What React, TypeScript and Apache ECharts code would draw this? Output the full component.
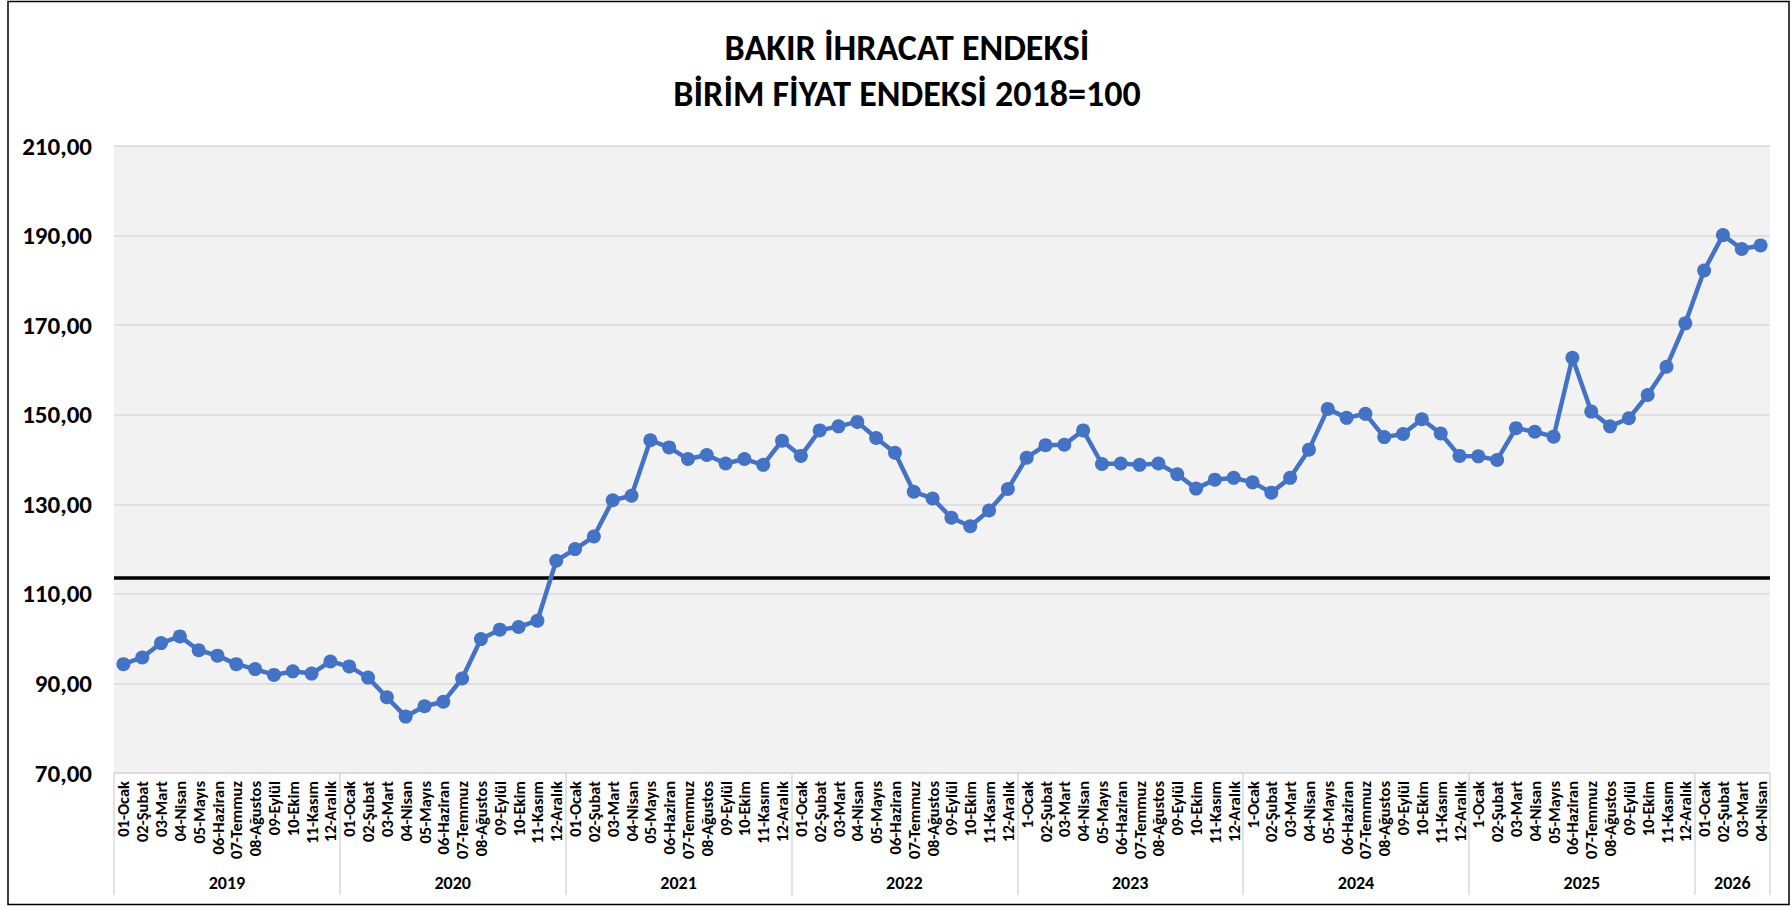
import React, { useEffect, useRef } from "react";
import * as echarts from "echarts";

const years = ["2019", "2020", "2021", "2022", "2023", "2024", "2025", "2026"];
const monthsStd = ["01-Ocak", "02-Şubat", "03-Mart", "04-Nisan", "05-Mayıs", "06-Haziran", "07-Temmuz", "08-Ağustos", "09-Eylül", "10-Ekim", "11-Kasım", "12-Aralık"];
const monthsAlt = ["1-Ocak", "02-Şubat", "03-Mart", "04-Nisan", "05-Mayıs", "06-Haziran", "07-Temmuz", "08-Ağustos", "09-Eylül", "10-Ekim", "11-Kasım", "12-Aralık"];
const months2026 = ["01-Ocak", "02-Şubat", "03-Mart", "04-Nisan"];
const yearMonths = [monthsStd, monthsStd, monthsStd, monthsStd, monthsAlt, monthsAlt, monthsAlt, months2026];

const v2019 = [94.3, 95.8, 99.0, 100.5, 97.4, 96.2, 94.3, 93.2, 91.9, 92.7, 92.2, 94.9];
const v2020 = [93.8, 91.3, 86.9, 82.6, 84.9, 85.9, 91.1, 99.9, 102.0, 102.6, 104.0, 117.4];
const v2021 = [120.0, 122.8, 130.9, 131.9, 144.3, 142.7, 140.1, 141.0, 139.1, 140.1, 138.8, 144.2];
const v2022 = [140.8, 146.5, 147.4, 148.4, 144.8, 141.5, 132.8, 131.3, 127.0, 125.1, 128.6, 133.4];
const v2023 = [140.4, 143.2, 143.3, 146.5, 139.0, 139.1, 138.8, 139.1, 136.7, 133.5, 135.5, 135.9];
const v2024 = [134.9, 132.6, 135.9, 142.2, 151.3, 149.3, 150.2, 145.0, 145.7, 149.0, 145.8, 140.8];
const v2025 = [140.7, 139.9, 147.0, 146.2, 145.1, 162.7, 150.7, 147.4, 149.2, 154.4, 160.7, 170.4];
const v2026 = [182.2, 190.1, 187.0, 187.8];
const yearValues = [v2019, v2020, v2021, v2022, v2023, v2024, v2025, v2026];

const referenceLevel = 113.6;
const yTicks = { min: 70, max: 210, interval: 20 };

const FONT = "Carlito, Lato, 'Open Sans', sans-serif";

export default function App() {
  const ref = useRef<HTMLDivElement>(null);

  useEffect(() => {
    document.body.style.margin = "0";
    if (!ref.current) return;
    const chart = echarts.init(ref.current, undefined, { renderer: "svg" });

    const categories: string[] = [];
    const yearOfCat: string[] = [];
    const values: number[] = [];
    const yearStarts = new Set<number>();
    const yearMids = new Set<number>();
    let idx = 0;
    yearMonths.forEach((ms, yi) => {
      yearStarts.add(idx);
      yearMids.add(idx + ms.length / 2);
      ms.forEach((m, mi) => {
        categories.push(m);
        yearOfCat.push(years[yi]);
        values.push(yearValues[yi][mi]);
      });
      idx += ms.length;
    });

    const gridLeft = 114;
    const gridRight = 21;
    const plotWidth = 1791 - gridLeft - gridRight;
    const band = plotWidth / categories.length;

    chart.setOption({
      animation: false,
      backgroundColor: "#ffffff",
      textStyle: { fontFamily: FONT },
      title: {
        text: "BAKIR İHRACAT ENDEKSİ\nBİRİM FİYAT ENDEKSİ 2018=100",
        left: 902,
        textAlign: "center",
        top: 20,
        textStyle: {
          fontFamily: FONT,
          fontSize: 36,
          fontWeight: "bold",
          color: "#000000",
          lineHeight: 46,
        },
      },
      graphic: [
        {
          type: "rect",
          shape: { x: 8, y: 1.5, width: 1781, height: 903 },
          style: { fill: "none", stroke: "#000000", lineWidth: 1.5 },
          silent: true,
        },
      ],
      grid: {
        left: gridLeft,
        right: gridRight,
        top: 146,
        bottom: 133,
        show: true,
        backgroundColor: "#f2f2f2",
        borderWidth: 0,
      },
      xAxis: [
        {
          type: "category",
          data: categories,
          boundaryGap: true,
          position: "bottom",
          axisLine: { show: true, lineStyle: { color: "#d9d9d9", width: 1.5 } },
          axisTick: { show: false },
          axisLabel: {
            interval: 0,
            rotate: 90,
            margin: 8,
            fontSize: 16.5,
            fontWeight: "bold",
            color: "#000000",
            fontFamily: FONT,
          },
          splitLine: { show: false },
        },
        {
          type: "category",
          data: yearOfCat,
          boundaryGap: true,
          position: "bottom",
          offset: 0,
          axisLine: { show: false },
          axisTick: {
            show: true,
            length: 122,
            interval: (i: number) => yearStarts.has(i),
            lineStyle: { color: "#d9d9d9", width: 1.5 },
          },
          axisLabel: {
            interval: (i: number) => yearMids.has(i),
            margin: 101,
            fontSize: 18,
            fontWeight: "bold",
            color: "#000000",
            fontFamily: FONT,
            padding: [0, band, 0, 0],
          },
          splitLine: { show: false },
        },
      ],
      yAxis: {
        type: "value",
        min: yTicks.min,
        max: yTicks.max,
        interval: yTicks.interval,
        axisLine: { show: false },
        axisTick: { show: false },
        axisLabel: {
          margin: 22,
          fontSize: 25,
          fontWeight: "bold",
          color: "#000000",
          fontFamily: FONT,
          formatter: (v: number) => v.toFixed(2).replace(".", ","),
        },
        splitLine: { show: true, lineStyle: { color: "#d9d9d9", width: 1.5 } },
      },
      series: [
        {
          type: "line",
          data: values,
          xAxisIndex: 0,
          symbol: "circle",
          symbolSize: 14,
          z: 3,
          lineStyle: { color: "#4472c4", width: 4.5 },
          itemStyle: { color: "#4472c4" },
          markLine: {
            silent: true,
            symbol: "none",
            label: { show: false },
            z: 2,
            lineStyle: { color: "#000000", width: 3.5, type: "solid" },
            data: [{ yAxis: referenceLevel }],
          },
        },
      ],
    });

    return () => chart.dispose();
  }, []);

  return <div ref={ref} style={{ width: 1791, height: 906 }} />;
}
